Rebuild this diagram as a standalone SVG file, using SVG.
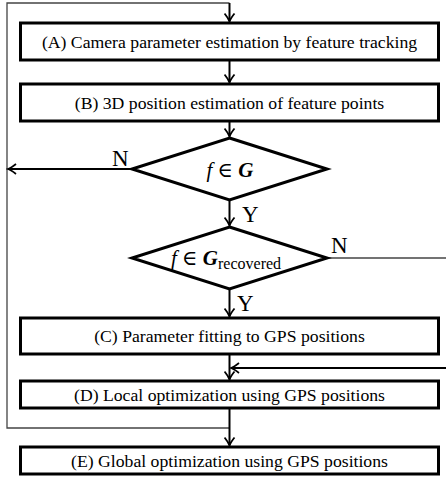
<svg xmlns="http://www.w3.org/2000/svg" width="446" height="488" viewBox="0 0 446 488">
<defs>
<style>
.box{fill:#fff;stroke:#000;stroke-width:3}
.dia{fill:#fff;stroke:#000;stroke-width:3;stroke-linejoin:miter}
.t{font-family:"Liberation Serif","Times New Roman",serif;font-size:17.7px;fill:#000;text-anchor:middle}
.lbl{font-family:"Liberation Serif","Times New Roman",serif;font-size:23px;fill:#000}
.m{font-family:"Liberation Serif","DejaVu Serif",serif;font-size:21px;fill:#000;text-anchor:middle}
.c{fill:none;stroke:#000;stroke-width:2}
.thin{fill:none;stroke:#444;stroke-width:1.3}
</style>
<marker id="ah" markerWidth="12" markerHeight="12" refX="0" refY="0" viewBox="-10 -6 12 12" orient="auto" markerUnits="userSpaceOnUse">
<path d="M-8,-5 Q-3,-1 0,0 Q-3,1 -8,5" fill="none" stroke="#000" stroke-width="1.8"/>
</marker>
</defs>
<g id="connectors">
<path class="thin" d="M229.5,428 H7 V3 H229.5"/>
<path class="c" d="M229.5,3 V21.5" marker-end="url(#ah)"/>
<path class="c" d="M229.5,60 V82.5" marker-end="url(#ah)"/>
<path class="c" d="M229.5,121 V136.5" marker-end="url(#ah)"/>
<path class="c" d="M132,169 H8" marker-end="url(#ah)"/>
<path class="c" d="M229.5,200 V225.5" marker-end="url(#ah)"/>
<path class="thin" d="M327,258 H446"/>
<path class="c" d="M229.5,289 V316.5" marker-end="url(#ah)"/>
<path class="c" d="M229.5,354 V379.5" marker-end="url(#ah)"/>
<path class="c" d="M446,368 H231" marker-end="url(#ah)"/>
<path class="c" d="M229.5,408 V445.5" marker-end="url(#ah)"/>
<text class="lbl" x="112" y="166">N</text>
<text class="lbl" x="242" y="222">Y</text>
<text class="lbl" x="331" y="253">N</text>
<text class="lbl" x="237" y="311">Y</text>
</g>
<g id="A">
<rect class="box" x="20.5" y="23" width="418" height="37"/>
<text class="t" x="229.5" y="48">(A) Camera parameter estimation by feature tracking</text>
</g>
<g id="B">
<rect class="box" x="20.5" y="84" width="418" height="37"/>
<text class="t" x="229.5" y="109">(B) 3D position estimation of feature points</text>
</g>
<g id="D1">
<polygon class="dia" points="229.5,138 327,169 229.5,200 132,169"/>
<text class="m" x="230" y="177"><tspan font-style="italic">f</tspan> ∈ <tspan font-style="italic" font-weight="bold">G</tspan></text>
</g>
<g id="D2">
<polygon class="dia" points="229.5,227 327,258 229.5,289 132,258"/>
<text class="m" x="226" y="265"><tspan font-style="italic">f</tspan> ∈ <tspan font-style="italic" font-weight="bold">G</tspan><tspan font-size="16px" dy="4">recovered</tspan></text>
</g>
<g id="C">
<rect class="box" x="20.5" y="318" width="418" height="36"/>
<text class="t" x="229.5" y="342">(C) Parameter fitting to GPS positions</text>
</g>
<g id="D">
<rect class="box" x="20.5" y="381" width="418" height="27"/>
<text class="t" x="229.5" y="400.5">(D) Local optimization using GPS positions</text>
</g>
<g id="E">
<rect class="box" x="20.5" y="447" width="418" height="27"/>
<text class="t" x="229.5" y="466.5">(E) Global optimization using GPS positions</text>
</g>
</svg>
